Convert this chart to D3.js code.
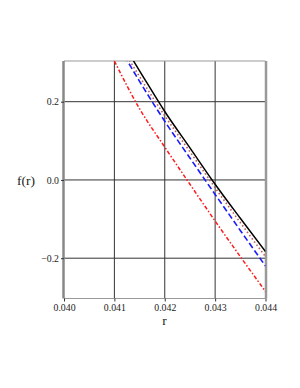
<!DOCTYPE html>
<html><head><meta charset="utf-8">
<script src="https://cdn.jsdelivr.net/npm/d3@7"></script>
<style>body{margin:0;background:#fff}svg{display:block}</style>
</head><body>
<script>
const rBlack = [0.0413, 0.0415, 0.0420, 0.0425, 0.0430, 0.0435, 0.0440];
const fBlack = [0.321, 0.279, 0.175, 0.082, -0.011, -0.098, -0.183];
const rDot = [0.0413, 0.0415, 0.0420, 0.0425, 0.0430, 0.0435, 0.0440];
const fDot = [0.306, 0.264, 0.164, 0.072, -0.020, -0.109, -0.196];
const rBlue = [0.0412, 0.0415, 0.0420, 0.0425, 0.0430, 0.0435, 0.0440];
const fBlue = [0.317, 0.252, 0.150, 0.056, -0.037, -0.129, -0.220];
const rRed = [0.0410, 0.0415, 0.0420, 0.0425, 0.0430, 0.0435, 0.0440];
const fRed = [0.304, 0.182, 0.084, -0.011, -0.105, -0.196, -0.285];
const xTicks = [0.040, 0.041, 0.042, 0.043, 0.044];
const yTicks = [-0.2, 0.0, 0.2];
const xLabel = "r", yLabel = "f(r)";

const W = 300, H = 388;
const L = 64, R = 265.5, T = 61, B = 298.5;
const svg = d3.select("body").append("svg").attr("width", W).attr("height", H);
const x = d3.scaleLinear().domain([0.040, 0.044]).range([L, R]);
const y = d3.scaleLinear().domain([-0.303, 0.304]).range([B, T]);

svg.append("defs").append("clipPath").attr("id", "c")
  .append("rect").attr("x", L).attr("y", T).attr("width", R - L).attr("height", B - T);

// grid
const g = svg.append("g");
g.selectAll(".vx").data(xTicks.slice(1, -1)).enter().append("line")
  .attr("x1", d => x(d)).attr("x2", d => x(d)).attr("y1", T).attr("y2", B)
  .attr("stroke", "#333").attr("stroke-width", 1);
g.selectAll(".hy").data(yTicks).enter().append("line")
  .attr("x1", L).attr("x2", R).attr("y1", d => y(d)).attr("y2", d => y(d))
  .attr("stroke", "#333").attr("stroke-width", 1);

// frame
svg.append("line").attr("x1", L).attr("x2", R).attr("y1", T).attr("y2", T).attr("stroke", "#999").attr("stroke-width", 1.2);
svg.append("line").attr("x1", L).attr("x2", R).attr("y1", B).attr("y2", B).attr("stroke", "#999").attr("stroke-width", 1.2);
svg.append("line").attr("x1", L - 0.5).attr("x2", L - 0.5).attr("y1", T).attr("y2", B).attr("stroke", "#888").attr("stroke-width", 2.5);
svg.append("line").attr("x1", R + 0.5).attr("x2", R + 0.5).attr("y1", T).attr("y2", B).attr("stroke", "#999").attr("stroke-width", 2.5);

// axes
const fmtX = d3.format(".3f");
const fmtY = d => d === 0 ? "0.0" : d3.format(".1f")(d).replace("-", "\u2212");
const ax = svg.append("g").attr("transform", `translate(0,${B})`)
  .call(d3.axisBottom(x).tickValues(xTicks).tickFormat(fmtX).tickSize(3).tickPadding(3));
const ay = svg.append("g").attr("transform", `translate(${L},0)`)
  .call(d3.axisLeft(y).tickValues(yTicks).tickFormat(fmtY).tickSize(3).tickPadding(2));
[ax, ay].forEach(a => {
  a.select(".domain").remove();
  a.selectAll("line").attr("stroke", "#333");
  a.selectAll("text").attr("font-family", "Liberation Serif, DejaVu Serif, serif")
    .attr("font-size", 9.8).attr("fill", "#222");
});

svg.append("text").attr("x", 26).attr("y", 185).attr("text-anchor", "middle")
  .attr("font-family", "Liberation Serif, serif").attr("font-size", 13.5).attr("fill", "#222").text(yLabel);
svg.append("text").attr("x", 164.5).attr("y", 325).attr("text-anchor", "middle")
  .attr("font-family", "Liberation Serif, serif").attr("font-size", 13.5).attr("fill", "#222").text(xLabel);

const line = d3.line().x(d => x(d[0])).y(d => y(d[1])).curve(d3.curveMonotoneX);
const series = [
  {r: rRed, f: fRed, color: "#ff1a1a", dash: "4,2,1.5,2", w: 1.5},
  {r: rBlue, f: fBlue, color: "#1a1aff", dash: "6,3", w: 1.6},
  {r: rDot, f: fDot, color: "#c05a55", dash: "1.5,2.5", w: 1.6},
  {r: rBlack, f: fBlack, color: "#000", dash: null, w: 1.5}
];
const pg = svg.append("g").attr("clip-path", "url(#c)");
series.forEach(s => {
  pg.append("path").datum(s.r.map((r, i) => [r, s.f[i]]))
    .attr("d", line).attr("fill", "none").attr("stroke", s.color)
    .attr("stroke-width", s.w).attr("stroke-dasharray", s.dash);
});
</script>
</body></html>
